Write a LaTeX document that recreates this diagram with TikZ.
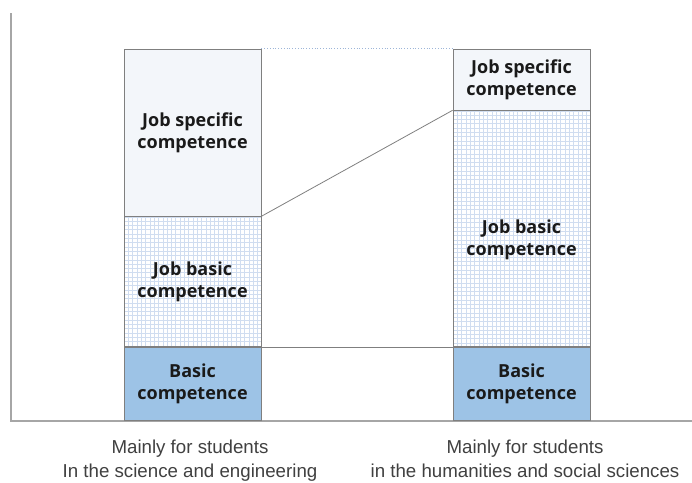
\documentclass[tikz,border=0pt]{standalone}
\usepackage{fontspec}
\setmainfont{Liberation Sans}
\newfontfamily\boxfont{Open Sans}
\usepackage{tikz}
\usetikzlibrary{positioning}

\definecolor{boxgray}{HTML}{7F7F7F}
\definecolor{axisgray}{HTML}{A6A6A6}
\definecolor{textblack}{HTML}{1A1A1A}
\definecolor{labelgray}{HTML}{404040}
\definecolor{specfill}{HTML}{F3F6FA}
\definecolor{gridblue}{HTML}{D0DDF0}
\definecolor{basefill}{HTML}{9DC3E6}
\definecolor{topdots}{HTML}{9DB5D8}

\tikzset{
  boxtext/.style={align=center, text=textblack, font=\boxfont\bfseries\fontsize{18}{22}\selectfont},
  compbox/.style={boxtext, draw=boxgray, line width=0.8pt, minimum width=137pt, inner sep=0pt},
  specbox/.style={compbox, fill=specfill},
  jobbox/.style={compbox, fill=white,
    path picture={
      \foreach \g in {0,4.3,...,240}{
        \draw[gridblue,line width=0.3pt] ([xshift=\g pt]path picture bounding box.north west) -- ([xshift=\g pt]path picture bounding box.south west);
        \draw[gridblue,line width=0.3pt] ([yshift=-\g pt]path picture bounding box.north west) -- ([yshift=-\g pt]path picture bounding box.north east);
      }
    }},
  basebox/.style={compbox, fill=basefill},
  linkline/.style={draw=boxgray, line width=0.8pt},
  grouplabel/.style={align=center, text=labelgray, font=\fontsize{18.7}{24}\selectfont}
}

\begin{document}
\begin{tikzpicture}[x=1pt,y=-1pt]
\useasboundingbox (0,0) rectangle (692,482);

% axes
\coordinate (ytop) at (11,13);
\coordinate (origin) at (11,421);
\coordinate (xend) at (692,421);
\draw[axisgray,line width=1.6pt] (ytop) -- (origin) -- (xend);

% left column
\node[basebox, minimum height=73pt] (lbase) at (192.5,384) {Basic\\competence};
\node[jobbox, minimum height=130pt, above=0pt of lbase] (ljob) {Job basic\\competence};
\node[specbox, minimum height=167pt, above=0pt of ljob] (lspec) {Job specific\\competence};

% right column
\node[basebox, minimum height=73pt] (rbase) at (521.5,384) {Basic\\competence};
\node[jobbox, minimum height=236pt, above=0pt of rbase,
  label={[boxtext,yshift=-11pt]center:Job basic\\competence}] (rjob) {};
\node[specbox, minimum height=61pt, above=0pt of rjob] (rspec) {Job specific\\competence};

% links
\draw[topdots,line width=0.8pt,dotted] (lspec.north east) -- (rspec.north west);
\draw[linkline] (lspec.south east) -- (rspec.south west);
\draw[linkline] (ljob.south east) -- (rjob.south west);

% group labels
\node[grouplabel] (lgroup) at (190,460.5) {Mainly for students\\In the science and engineering};
\node[grouplabel] (rgroup) at (525,459) {Mainly for students\\in the humanities and social sciences};
\end{tikzpicture}
\end{document}
